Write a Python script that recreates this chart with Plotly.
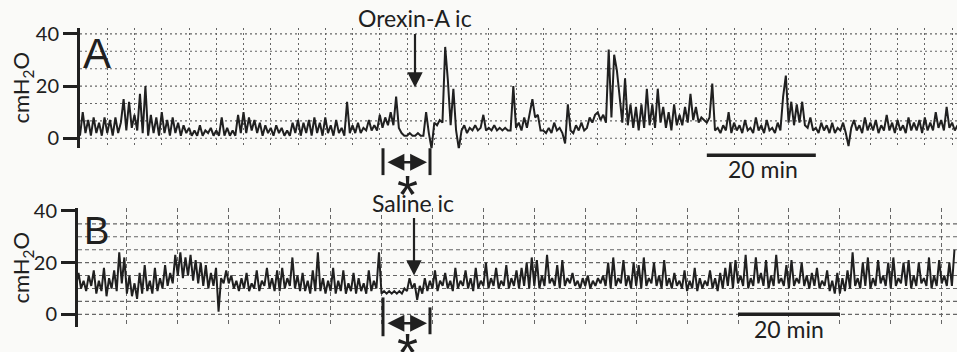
import numpy as np
import plotly.graph_objects as go

W, H = 957, 352

# ---- Data: bladder pressure traces (cmH2O), one reading every 0.5 min ----
SAMPLE_MIN = 0.5

a_pressure = [
    1, 10, 2, 7, 1, 8, 2, 6, 1, 8,          # 0-5 min
    2, 7, 1, 8, 2, 6, 15, 3, 14, 4,         # 5-10
    9, 3, 17, 2, 20, 1, 9, 2, 8, 1,         # 10-15
    10, 2, 7, 1, 8, 2, 6, 1, 5, 2,          # 15-20
    4, 1, 3, 1, 5, 1, 3, 2, 4, 1,           # 20-25
    3, 1, 8, 1, 4, 1, 3, 1, 9, 2,           # 25-30
    10, 2, 8, 3, 7, 2, 6, 1, 5, 2,          # 30-35
    4, 1, 5, 2, 4, 1, 3, 1, 6, 2,           # 35-40
    7, 1, 6, 2, 7, 1, 8, 2, 6, 1,           # 40-45
    8, 2, 5, 1, 7, 2, 4, 1, 14, 2,          # 45-50
    5, 2, 6, 2, 4, 3, 7, 3, 5, 3,           # 50-55
    9, 4, 8, 5, 10, 5, 16, 4, 2, 1,         # 55-60
    1, 2, 1, 1, 2, 1, 1, 10, 2, -4,         # 60-65
    6, 5, 7, 6, 35, 22, 5, 19, 3, -4,       # 65-70
    3, 5, 2, 4, 3, 5, 3, 4, 9, 3,           # 70-75
    4, 3, 5, 3, 4, 3, 4, 3, 3, 20,          # 75-80
    4, 6, 3, 8, 4, 10, 15, 8, 9, 3,         # 80-85
    3, 2, 4, 2, 6, 3, 4, 2, -2, 13,         # 85-90
    3, 2, 5, 3, 6, 3, 4, 8, 6, 9,           # 90-95
    10, 7, 9, 6, 34, 8, 32, 26, 17, 6,      # 95-100
    23, 5, 13, 4, 12, 3, 13, 4, 19, 5,      # 100-105
    13, 4, 19, 6, 12, 4, 10, 3, 13, 5,      # 105-110
    9, 5, 12, 6, 17, 7, 12, 6, 8, 7,        # 110-115
    6, 8, 21, 3, 4, 2, 5, 3, 10, 2,         # 115-120
    6, 3, 5, 2, 7, 3, 4, 2, 8, 3,           # 120-125
    5, 2, 7, 3, 4, 2, 6, 3, 16, 24,         # 125-130
    6, 14, 5, 13, 6, 14, 5, 4, 8, 3,        # 130-135
    4, 2, 6, 3, 5, 2, 6, 2, 4, 3,           # 135-140
    6, 2, -3, 4, 7, 3, 5, 2, 8, 3,          # 140-145
    6, 3, 7, 2, 5, 3, 9, 3, 6, 2,           # 145-150
    7, 3, 5, 2, 8, 3, 6, 3, 7, 2,           # 150-155
    8, 3, 6, 3, 10, 4, 7, 3, 12, 4,         # 155-160
    6, 3, 5,                                # 160-161
]

b_pressure = [
    11, 16, 10, 13, 9, 15, 11, 17, 8, 13,   # 0-5 min
    9, 18, 7, 14, 10, 17, 9, 24, 12, 22,    # 5-10
    8, 15, 7, 12, 6, 16, 8, 19, 9, 13,      # 10-15
    8, 18, 9, 14, 10, 19, 11, 16, 12, 23,   # 15-20
    15, 24, 14, 22, 15, 23, 13, 21, 12, 20, # 20-25
    11, 19, 10, 16, 11, 18, 1, 14, 12, 17,  # 25-30
    12, 15, 10, 13, 9, 14, 10, 16, 9, 12,   # 30-35
    10, 17, 9, 13, 11, 18, 10, 14, 9, 17,   # 35-40
    9, 18, 10, 14, 11, 22, 10, 15, 9, 16,   # 40-45
    9, 13, 8, 17, 9, 24, 9, 14, 8, 13,      # 45-50
    9, 18, 8, 13, 9, 17, 8, 12, 9, 16,      # 50-55
    8, 14, 9, 12, 8, 17, 9, 13, 10, 24,     # 55-60
    8, 9, 8, 9, 8, 9, 8, 9, 8, 10,          # 60-65
    9, 14, 10, 12, 5.6, 11, 8, 14, 9, 13,   # 65-70
    10, 17, 9, 13, 11, 16, 10, 13, 9, 18,   # 70-75
    10, 13, 11, 17, 10, 14, 9, 18, 10, 13,  # 75-80
    11, 20, 10, 14, 11, 18, 10, 13, 11, 19, # 80-85
    10, 14, 11, 17, 10, 18, 11, 20, 10, 22, # 85-90
    11, 21, 10, 15, 11, 23, 12, 14, 11, 19, # 90-95
    10, 21, 11, 14, 12, 16, 11, 13, 10, 14, # 95-100
    11, 15, 10, 13, 11, 14, 12, 15, 11, 20, # 100-105
    10, 22, 11, 14, 12, 21, 11, 15, 10, 20, # 105-110
    11, 19, 10, 22, 11, 14, 12, 20, 11, 15, # 110-115
    10, 21, 11, 14, 10, 16, 11, 13, 10, 17, # 115-120
    9, 13, 10, 18, 9, 14, 10, 13, 11, 17,   # 120-125
    10, 14, 9, 16, 10, 18, 11, 20, 10, 21,  # 125-130
    12, 15, 11, 23, 10, 14, 11, 22, 12, 16, # 130-135
    11, 21, 10, 15, 11, 23, 12, 14, 11, 19, # 135-140
    10, 21, 11, 14, 12, 20, 11, 15, 10, 16, # 140-145
    11, 18, 10, 13, 11, 17, 9, 13, 8, 16,   # 145-150
    8, 14, 9, 17, 10, 24, 11, 14, 10, 20,   # 150-155
    11, 22, 10, 14, 11, 21, 12, 15, 11, 20, # 155-160
    10, 22, 11, 14, 12, 20, 11, 21, 10, 15, # 160-165
    11, 20, 12, 14, 11, 22, 10, 15, 11, 21, # 165-170
    12, 15, 11, 20, 11, 25,                 # 170-173
]

y_tick_vals = [0, 20, 40]
y_tick_text = ["0", "20", "40"]
a_grid_y = [0, 20 / 3, 40 / 3, 20, 80 / 3, 100 / 3, 40]
b_grid_y = [0, 5, 10, 15, 20, 25, 30, 35]
a_grid_step_min = 5
b_grid_step_min = 10
a_scalebar_min = [115, 135]
b_scalebar_min = [130, 150]
y_title = "cmH<sub>2</sub>O"

a_time = np.arange(len(a_pressure)) * SAMPLE_MIN
b_time = np.arange(len(b_pressure)) * SAMPLE_MIN

# ---- helpers (pixel -> paper) ----
def PX(x):
    return x / W

def PY(y):
    # screen row -> paper fraction (small vertical calibration)
    return 1 - (y - 9) / (0.974 * H)

INK = "#202020"
GRID = "#666666"
BG = "#fafaf8"
FONT = "Lato"

fig = go.Figure()
fig.add_trace(go.Scatter(x=a_time, y=a_pressure, mode="lines",
                         line=dict(color=INK, width=2.0), xaxis="x", yaxis="y",
                         hoverinfo="skip", showlegend=False))
fig.add_trace(go.Scatter(x=b_time, y=b_pressure, mode="lines",
                         line=dict(color=INK, width=2.0), xaxis="x2", yaxis="y2",
                         hoverinfo="skip", showlegend=False))

common_x = dict(showticklabels=False, ticks="", zeroline=False, showline=False,
                showgrid=True, gridcolor=GRID, gridwidth=1.1, fixedrange=True)
common_y = dict(tickvals=y_tick_vals, ticktext=y_tick_text, ticks="outside",
                ticklen=14, tickwidth=3, tickcolor=INK, showline=True,
                linewidth=3, linecolor=INK, showgrid=False, zeroline=False,
                tickfont=dict(family=FONT, size=20, color=INK), fixedrange=True)

fig.update_layout(
    width=W, height=H,
    margin=dict(l=0, r=0, t=0, b=0),
    paper_bgcolor=BG, plot_bgcolor=BG,
    showlegend=False,
    xaxis=dict(domain=[PX(80), 1], range=[0, 160.9], tick0=0,
               dtick=a_grid_step_min, griddash="2px,3px", anchor="y", **common_x),
    yaxis=dict(domain=[PY(148), PY(27)], range=[-3.81, 42.29], anchor="x", **common_y),
    xaxis2=dict(domain=[PX(78), 1], range=[0.4, 173.0], tick0=0,
                dtick=b_grid_step_min, griddash="4px,3px", anchor="y2", **common_x),
    yaxis2=dict(domain=[PY(328), PY(208)], range=[-5, 41.15], anchor="x2", **common_y),
)

shapes = []
for v in a_grid_y:
    shapes.append(dict(type="line", xref="x domain", yref="y", x0=0, x1=1, y0=v, y1=v,
                       line=dict(color=GRID, width=1.1, dash="2px,3px"), layer="below"))
for v in b_grid_y:
    shapes.append(dict(type="line", xref="x2 domain", yref="y2", x0=0, x1=1, y0=v, y1=v,
                       line=dict(color=GRID, width=1.1, dash="4px,3px"), layer="below"))

# scale bars
shapes.append(dict(type="line", xref="x", yref="paper", x0=a_scalebar_min[0],
                   x1=a_scalebar_min[1], y0=PY(155), y1=PY(155),
                   line=dict(color=INK, width=3.5)))
shapes.append(dict(type="line", xref="x2", yref="y2", x0=b_scalebar_min[0],
                   x1=b_scalebar_min[1], y0=0, y1=0,
                   line=dict(color=INK, width=3.5)))

# bracket end bars
for (x, y0, y1) in [(383, 148, 175), (430, 148, 175), (383, 298, 337), (430, 308, 335)]:
    shapes.append(dict(type="line", xref="paper", yref="paper", x0=PX(x), x1=PX(x),
                       y0=PY(y0), y1=PY(y1), line=dict(color=INK, width=3)))
fig.update_layout(shapes=shapes)

ann = []
def text(x, y, s, size, family=FONT, angle=0):
    ann.append(dict(x=PX(x), y=PY(y), xref="paper", yref="paper", text=s,
                    showarrow=False, xanchor="center", yanchor="middle",
                    textangle=angle, font=dict(family=family, size=size, color=INK)))

text(97, 53, "A", 42, "Liberation Sans")
text(96, 231, "B", 38, "Liberation Sans")
text(22, 87, y_title, 22, angle=-90)
text(22, 268, y_title, 22, angle=-90)
text(415, 17, "Orexin-A ic", 23)
text(413, 203, "Saline ic", 23)
text(763, 169, "20 min", 23)
text(789, 330, "20 min", 23)
text(407, 194, "*", 54, "Liberation Sans")
text(407, 353, "*", 54, "Liberation Sans")

# injection arrows
ann.append(dict(x=PX(415), y=PY(87), xref="paper", yref="paper", ax=0, ay=-55,
                text="", showarrow=True, arrowhead=2, arrowsize=1.4, arrowwidth=2.2,
                arrowcolor=INK))
ann.append(dict(x=PX(414), y=PY(276), xref="paper", yref="paper", ax=0, ay=-59,
                text="", showarrow=True, arrowhead=2, arrowsize=1.4, arrowwidth=2.2,
                arrowcolor=INK))
# double-headed brackets
for yy in (162, 324):
    ann.append(dict(x=PX(427), y=PY(yy), xref="paper", yref="paper", ax=-41, ay=0,
                    text="", showarrow=True, arrowhead=2, startarrowhead=2,
                    arrowside="end+start", arrowsize=1.3, startarrowsize=1.3,
                    arrowwidth=2.6, arrowcolor=INK, standoff=0, startstandoff=0))
fig.update_layout(annotations=ann)

fig.write_html("out.html", config={"displayModeBar": False},
               post_script="document.body.style.margin='0';"
                           "document.body.style.overflow='hidden';")
